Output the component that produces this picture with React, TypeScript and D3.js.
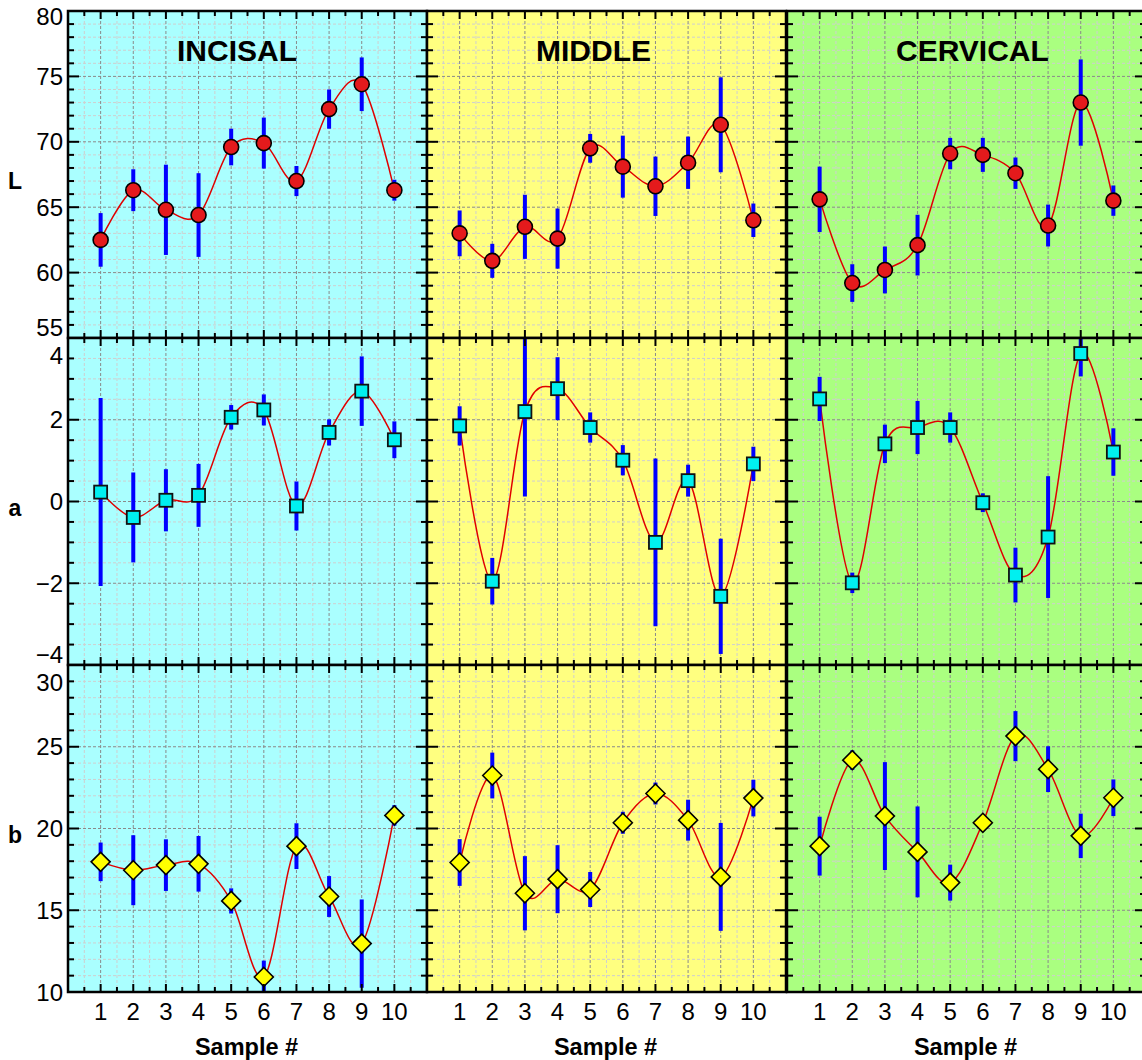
import React from 'react';
import * as d3 from 'd3';

// sample numbers on the x axis
const samples = [1, 2, 3, 4, 5, 6, 7, 8, 9, 10];

const regions = ['INCISAL', 'MIDDLE', 'CERVICAL'];
const quantities = ['L', 'a', 'b'];

// L values (mean, error) per region
const lIncisal = [62.5, 66.3, 64.8, 64.4, 69.6, 69.9, 67.0, 72.5, 74.4, 66.3];
const lIncisalErr = [2.05, 1.6, 3.45, 3.2, 1.4, 1.95, 1.15, 1.5, 2.05, 0.8];
const lMiddle = [63.0, 60.9, 63.5, 62.6, 69.5, 68.1, 66.6, 68.4, 71.3, 64.0];
const lMiddleErr = [1.75, 1.3, 2.45, 2.3, 1.1, 2.37, 2.27, 2.0, 3.63, 1.28];
const lCervical = [65.6, 59.2, 60.2, 62.1, 69.1, 69.0, 67.6, 63.6, 73.0, 65.5];
const lCervicalErr = [2.5, 1.44, 1.79, 2.32, 1.2, 1.3, 1.2, 1.6, 3.3, 1.16];

// a values
const aIncisal = [0.23, -0.39, 0.03, 0.15, 2.06, 2.24, -0.11, 1.69, 2.7, 1.51];
const aIncisalErr = [2.3, 1.1, 0.76, 0.77, 0.3, 0.38, 0.6, 0.32, 0.85, 0.45];
const aMiddle = [1.85, -1.95, 2.2, 2.76, 1.81, 1.01, -1.0, 0.51, -2.32, 0.92];
const aMiddleErr = [0.48, 0.57, 2.08, 0.77, 0.37, 0.37, 2.05, 0.39, 1.41, 0.42];
const aCervical = [2.51, -1.99, 1.41, 1.81, 1.81, -0.03, -1.8, -0.87, 3.62, 1.21];
const aCervicalErr = [0.54, 0.25, 0.47, 0.65, 0.37, 0.23, 0.67, 1.49, 0.56, 0.58];

// b values
const bIncisal = [17.96, 17.45, 17.76, 17.84, 15.57, 10.92, 18.92, 15.84, 12.96, 20.8];
const bIncisalErr = [1.18, 2.14, 1.58, 1.7, 0.77, 1.0, 1.4, 1.25, 2.7, 0.63];
const bMiddle = [17.92, 23.24, 16.04, 16.9, 16.27, 20.35, 22.14, 20.51, 17.04, 21.86];
const bMiddleErr = [1.43, 1.4, 2.27, 2.08, 1.07, 0.67, 0.67, 1.25, 3.3, 1.12];
const bCervical = [18.92, 24.18, 20.76, 18.57, 16.69, 20.35, 25.65, 23.63, 19.55, 21.88];
const bCervicalErr = [1.8, 0.6, 3.3, 2.78, 1.1, 0.4, 1.53, 1.4, 1.36, 1.12];

// axis ranges and ticks per quantity
const lTicks = [55, 60, 65, 70, 75, 80];
const aTicks = [-4, -2, 0, 2, 4];
const bTicks = [10, 15, 20, 25, 30];

const rowDefs = [
  { domain: [55, 80], major: lTicks, minorStep: 1 },
  { domain: [-4, 4], major: aTicks, minorStep: 0.5 },
  { domain: [10, 30], major: bTicks, minorStep: 1 },
];

const values = [
  [[lIncisal, lIncisalErr], [lMiddle, lMiddleErr], [lCervical, lCervicalErr]],
  [[aIncisal, aIncisalErr], [aMiddle, aMiddleErr], [aCervical, aCervicalErr]],
  [[bIncisal, bIncisalErr], [bMiddle, bMiddleErr], [bCervical, bCervicalErr]],
];

const bgColors = ['#aaffff', '#ffff80', '#aaff80'];
const font = '"Liberation Sans", Arial, Helvetica, sans-serif';

const W = 1142;
const H = 1060;
const colLeft = [68, 427, 787];
const colW = 359;
const rowTop = [11, 338, 665];
const rowH = 327;

function range(a: number, b: number, step: number) {
  const out: number[] = [];
  const n = Math.round((b - a) / step);
  for (let i = 0; i <= n; i++) out.push(+(a + i * step).toFixed(6));
  return out;
}

function Marker({ kind, x, y }: { kind: number; x: number; y: number }) {
  if (kind === 0) {
    return <circle cx={x} cy={y} r={7.5} fill="#e41a1c" stroke="#000" strokeWidth={1.6} />;
  }
  if (kind === 1) {
    return <rect x={x - 6.5} y={y - 6.5} width={13} height={13} fill="#00f0f0" stroke="#111" strokeWidth={1.8} />;
  }
  const r = 9.5;
  return (
    <path
      d={`M${x},${y - r}L${x + r},${y}L${x},${y + r}L${x - r},${y}Z`}
      fill="#ffff00"
      stroke="#000"
      strokeWidth={1.6}
    />
  );
}

function Panel({ row, col }: { row: number; col: number }) {
  const def = rowDefs[row];
  const left = colLeft[col];
  const top = rowTop[row];
  const x = d3.scaleLinear().domain([0, 11]).range([left, left + colW]);
  const y = d3.scaleLinear().domain(def.domain).range([top + rowH, top]);
  const [vals, errs] = values[row][col];
  const clipId = `clip-${row}-${col}`;

  const xMajor = samples;
  const xMinor = range(0.5, 10.5, 1);
  const yMinor = range(def.domain[0], def.domain[1], def.minorStep).filter(v => !def.major.includes(v));

  const pts: [number, number][] = samples.map((s, i) => [x(s), y(vals[i])]);
  const line = d3.line().curve(d3.curveCatmullRom.alpha(0))(pts) || '';

  const right = left + colW;
  const bottom = top + rowH;

  return (
    <g>
      <defs>
        <clipPath id={clipId}>
          <rect x={left} y={top} width={colW} height={rowH} />
        </clipPath>
      </defs>
      <rect x={left} y={top} width={colW} height={rowH} fill={bgColors[col]} />
      <g clipPath={`url(#${clipId})`}>
        {xMinor.map(v => (
          <line key={`xm${v}`} x1={x(v)} x2={x(v)} y1={top} y2={bottom} stroke="#cfcfcf" strokeWidth={1} strokeDasharray="3,2" />
        ))}
        {yMinor.map(v => (
          <line key={`ym${v}`} x1={left} x2={right} y1={y(v)} y2={y(v)} stroke="#cfcfcf" strokeWidth={1} strokeDasharray="3,2" />
        ))}
        {xMajor.map(v => (
          <line key={`xM${v}`} x1={x(v)} x2={x(v)} y1={top} y2={bottom} stroke="#8a8a8a" strokeWidth={1} strokeDasharray="3,2" />
        ))}
        {def.major.map(v => (
          <line key={`yM${v}`} x1={left} x2={right} y1={y(v)} y2={y(v)} stroke="#8a8a8a" strokeWidth={1} strokeDasharray="3,2" />
        ))}
        <path d={line} fill="none" stroke="#e00000" strokeWidth={1.5} />
        {samples.map((s, i) => (
          <line
            key={`e${s}`}
            x1={x(s)}
            x2={x(s)}
            y1={y(vals[i] - errs[i])}
            y2={y(vals[i] + errs[i])}
            stroke="#0000ff"
            strokeWidth={4}
          />
        ))}
        {samples.map((s, i) => (
          <Marker key={`m${s}`} kind={row} x={x(s)} y={y(vals[i])} />
        ))}
      </g>
      {/* inward ticks on all four sides */}
      <g stroke="#000" strokeWidth={2}>
        {xMajor.map(v => (
          <g key={`tx${v}`}>
            <line x1={x(v)} x2={x(v)} y1={top} y2={top + 8} />
            <line x1={x(v)} x2={x(v)} y1={bottom} y2={bottom - 8} />
          </g>
        ))}
        {xMinor.map(v => (
          <g key={`txm${v}`}>
            <line x1={x(v)} x2={x(v)} y1={top} y2={top + 5} />
            <line x1={x(v)} x2={x(v)} y1={bottom} y2={bottom - 5} />
          </g>
        ))}
        {def.major.map(v => (
          <g key={`ty${v}`}>
            <line x1={left} x2={left + 11} y1={y(v)} y2={y(v)} />
            <line x1={right} x2={right - 11} y1={y(v)} y2={y(v)} />
          </g>
        ))}
        {yMinor.map(v => (
          <g key={`tym${v}`}>
            <line x1={left} x2={left + 6} y1={y(v)} y2={y(v)} />
            <line x1={right} x2={right - 6} y1={y(v)} y2={y(v)} />
          </g>
        ))}
      </g>
      <rect x={left} y={top} width={colW} height={rowH} fill="none" stroke="#000" strokeWidth={2.5} />
      {row === 0 && (
        <text x={left + 109} y={61} fontFamily={font} fontWeight="bold" fontSize={30} fill="#000">
          {regions[col]}
        </text>
      )}
      {col === 0 &&
        def.major.map((v, i) => {
          let yy = y(v);
          if (i === def.major.length - 1) yy += row === 0 ? 5 : 17;
          if (i === 0 && row < 2) yy -= 11;
          return (
            <text
              key={`yl${v}`}
              x={63}
              y={yy}
              textAnchor="end"
              dominantBaseline="central"
              fontFamily={font}
              fontSize={24}
              fill="#000"
            >
              {v < 0 ? `\u2212${Math.abs(v)}` : v}
            </text>
          );
        })}
      {col === 0 && (
        <text
          x={15}
          y={top + rowH / 2 + 6}
          textAnchor="middle"
          dominantBaseline="central"
          fontFamily={font}
          fontWeight="bold"
          fontSize={23}
        >
          {quantities[row]}
        </text>
      )}
      {row === 2 && (
        <g>
          {samples.map(s => (
            <text
              key={`xl${s}`}
              x={x(s)}
              y={1020}
              textAnchor="middle"
              fontFamily={font}
              fontSize={24}
              fill="#000"
            >
              {s}
            </text>
          ))}
          <text
            x={x(5.5) - 1}
            y={1055}
            textAnchor="middle"
            fontFamily={font}
            fontWeight="bold"
            fontSize={23.5}
          >
            Sample #
          </text>
        </g>
      )}
    </g>
  );
}

export default function App() {
  return (
    <svg
      width={W}
      height={H}
      viewBox={`0 0 ${W} ${H}`}
      style={{ position: 'absolute', left: 0, top: 0, background: '#fff' }}
    >
      {[0, 1, 2].map(row =>
        [0, 1, 2].map(col => <Panel key={`${row}-${col}`} row={row} col={col} />)
      )}
    </svg>
  );
}
